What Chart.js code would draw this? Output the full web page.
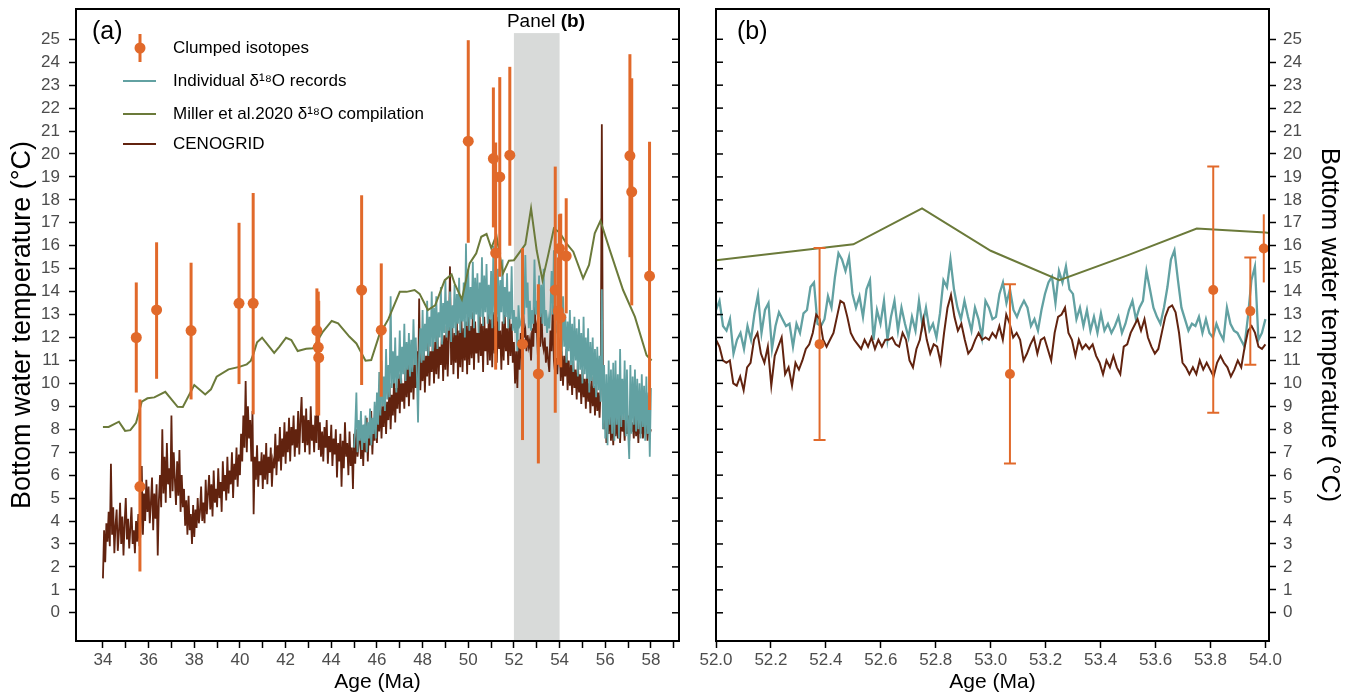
<!DOCTYPE html>
<html>
<head>
<meta charset="utf-8">
<script src="https://cdn.jsdelivr.net/npm/chart.js@4.4.1/dist/chart.umd.min.js"></script>
<style>
  html, body { margin: 0; padding: 0; background: #fff; }
  #wrap { position: relative; width: 1357px; height: 697px; }
  #panelA { position: absolute; left: 0; top: 0; }
  #panelB { position: absolute; left: 690px; top: 0; }
</style>
</head>
<body>
<div id="wrap">
  <canvas id="panelA" width="690" height="697"></canvas>
  <canvas id="panelB" width="667" height="697"></canvas>
</div>
<script>
// ---- data ----
var yTicks = [0,1,2,3,4,5,6,7,8,9,10,11,12,13,14,15,16,17,18,19,20,21,22,23,24,25];
var xTicksA = [34,35,36,37,38,39,40,41,42,43,44,45,46,47,48,49,50,51,52,53,54,55,56,57,58,59];
var xTicksB = [52.0,52.2,52.4,52.6,52.8,53.0,53.2,53.4,53.6,53.8,54.0];

// clumped isotopes: age, temperature, error bar low / high
var clumpedAge  = [35.46,35.62,36.35,37.86,39.96,40.58,43.37,43.43,43.45,45.33,46.19,50.0,51.1,51.2,51.38,51.82,52.377,53.07,53.81,53.945,53.994,54.05,54.29,57.08,57.16,57.94];
var clumpedTemp = [12.0,5.5,13.2,12.3,13.49,13.49,12.3,11.57,11.12,14.07,12.32,20.56,19.8,15.68,19.0,19.95,11.71,10.41,14.07,13.15,15.88,12.88,15.55,19.92,18.35,14.68];
var clumpedLow  = [9.6,1.8,10.2,9.3,9.97,8.65,8.6,9.0,8.6,9.93,9.42,16.13,16.8,10.6,14.65,16.0,7.53,6.51,8.72,10.81,14.4,10.7,13.05,15.5,13.4,8.84];
var clumpedHigh = [14.4,9.3,16.15,15.26,17.0,18.3,14.14,14.0,13.6,18.2,15.23,24.96,22.9,20.5,23.35,23.8,15.9,14.32,19.45,15.49,17.37,17.4,18.07,24.35,23.3,20.53];

// Miller et al. 2020 compilation
var millerAge  = [34.0,34.25,34.7,34.97,35.2,35.45,35.7,35.95,36.25,36.73,37.27,37.5,38.0,38.48,38.73,38.98,39.5,39.97,40.3,40.48,40.6,40.75,40.97,41.5,41.73,42.02,42.25,42.53,42.9,43.2,43.63,44.02,44.3,44.8,45.1,45.5,45.75,46.1,46.5,47.0,47.3,47.65,47.87,48.23,48.55,48.97,49.27,49.4,49.72,50.06,50.35,50.57,50.8,51.01,51.23,51.52,51.78,52.0,52.5,52.75,53.0,53.25,53.5,53.75,54.0,54.3,54.6,55.03,55.29,55.54,55.79,56.2,56.78,57.3,57.81,58.03];
var millerTemp = [8.1,8.1,8.33,7.93,7.96,8.28,9.2,9.35,9.39,9.63,8.98,8.97,9.93,9.52,9.74,10.29,10.61,10.72,10.83,10.99,11.31,11.79,11.99,11.33,11.6,11.99,11.89,11.41,11.51,11.53,12.25,12.72,12.62,12.03,11.74,10.99,11.02,12.1,12.8,13.99,13.99,14.07,13.9,13.2,13.4,14.5,14.75,14.36,13.66,15.23,15.67,16.39,16.51,15.89,16.47,14.79,15.35,15.37,16.06,17.63,15.78,14.5,15.59,16.75,16.58,16.1,15.74,14.58,15.16,16.54,17.09,15.81,14.07,12.9,11.23,11.0];

// CENOGRID, panel (a): every 0.05 Ma from 34.0 (one row = 0.5 Ma)
var cenogridAStart = 34.0, cenogridAStep = 0.05;
var cenogridA = [
  1.5,3.6,2.2,3.9,3.1,4.4,2.9,6.5,3.4,4.6,
  2.6,3.8,4.5,2.7,3.5,4.8,3.0,4.2,2.5,3.9,
  5.0,3.2,4.1,2.8,3.7,4.6,3.0,3.6,2.6,4.0,
  3.1,4.3,2.9,3.5,6.4,3.4,5.2,4.0,5.8,4.4,
  5.5,3.9,4.8,5.9,3.6,5.2,4.1,5.6,2.5,4.9,
  6.0,4.6,8.0,5.2,6.8,4.8,7.4,5.6,6.3,5.0,
  8.6,5.3,7.0,5.8,4.7,6.6,5.1,7.1,4.4,6.0,
  4.6,5.4,3.8,4.9,3.4,5.1,3.6,4.3,3.0,4.7,
  3.3,4.5,3.7,5.0,3.9,4.4,5.5,4.0,4.8,3.9,
  5.8,4.3,5.2,6.0,4.5,5.6,4.2,6.2,4.8,5.4,
  4.6,6.3,5.0,5.7,4.4,6.6,5.3,6.0,4.9,6.8,
  5.2,6.2,5.6,7.0,5.0,6.5,5.8,7.2,5.5,6.9,
  6.0,7.8,6.6,8.6,7.2,10.1,7.0,9.0,7.6,8.4,
  6.6,8.8,4.3,6.8,5.8,7.3,5.5,6.6,6.0,7.0,
  5.4,6.9,5.8,7.4,5.6,6.8,6.1,7.2,5.5,6.6,
  6.3,7.8,6.0,7.3,6.6,8.1,6.2,7.6,6.8,8.3,
  6.5,7.9,7.0,8.5,6.6,8.1,7.3,8.6,6.8,8.0,
  7.2,8.8,6.9,8.4,9.4,7.4,8.6,7.0,8.9,7.3,
  8.4,6.9,9.0,7.5,8.2,7.0,8.6,7.4,10.5,7.1,
  8.3,6.8,7.9,6.6,8.1,7.2,8.4,6.5,7.7,7.0,
  8.2,6.4,7.6,6.9,8.0,5.9,7.4,6.6,7.8,5.5,
  7.5,6.3,8.3,6.8,7.4,6.0,7.9,6.4,7.2,5.4,
  7.8,6.5,8.0,6.8,7.4,8.3,6.7,7.9,6.4,8.2,
  7.0,8.5,6.6,8.0,7.3,8.8,6.9,8.2,7.5,9.0,
  7.4,8.8,7.9,9.3,7.6,9.0,8.1,9.6,7.8,9.2,
  8.4,10.0,8.0,9.5,8.6,10.2,8.3,9.8,8.9,10.4,
  8.7,10.5,9.2,10.0,8.9,10.7,9.4,11.0,9.0,10.4,
  9.6,11.2,9.3,10.8,9.8,11.4,9.5,13.7,9.7,11.0,
  10.1,11.6,9.6,11.2,10.3,11.9,9.9,11.4,10.5,12.0,
  10.0,11.8,10.4,12.3,10.2,11.6,10.8,12.4,10.1,12.1,
  10.6,12.5,10.3,12.0,15.1,10.8,12.6,10.4,12.2,10.9,
  12.8,10.2,12.3,10.7,12.9,10.5,12.4,11.0,12.7,10.4,
  12.9,10.8,12.5,11.1,13.1,10.6,12.7,11.3,12.2,10.9,
  13.0,11.2,12.6,10.5,12.9,11.4,12.4,10.8,13.2,11.0,
  12.8,10.7,13.1,11.3,12.5,10.9,12.9,11.5,12.3,10.6,
  12.7,11.0,13.0,11.4,12.4,10.8,12.9,11.2,12.6,10.9,
  11.8,10.0,11.4,9.8,11.9,10.6,12.2,11.0,13.5,12.0,
  12.3,11.4,12.1,11.6,11.9,11.0,12.4,11.6,13.8,12.2,
  12.5,11.2,12.0,11.6,13.3,11.8,11.5,12.0,10.9,11.6,
  11.0,10.5,12.3,11.4,13.4,11.0,10.5,11.1,10.4,11.6,
  11.8,10.1,11.4,9.9,11.2,10.3,11.5,9.7,11.0,9.9,
  10.8,9.5,11.0,9.8,10.6,9.3,10.9,9.6,10.4,9.1,
  10.6,9.4,10.2,8.9,10.5,9.2,10.0,8.7,10.3,9.0,
  9.9,8.6,10.1,8.8,9.6,8.5,9.8,21.3,9.4,8.0,
  9.0,7.4,8.7,7.8,9.1,7.5,8.6,7.3,8.8,7.7,
  8.5,7.6,9.0,7.4,8.7,7.9,8.4,7.5,8.9,7.8,
  8.6,7.5,8.8,7.9,8.3,7.6,8.9,7.7,8.5,7.4,
  8.7,7.8,8.4,7.6,8.2,7.9,8.6,7.5,8.1,7.8,
  8.0];

// individual d18O records, panel (a): every 0.05 Ma from 45.0
var individualAStart = 45.0, individualAStep = 0.05;
var individualA = [
  7.2,8.1,9.6,7.0,8.4,7.5,8.8,7.1,8.2,7.4,
  8.6,7.0,8.3,7.6,8.9,7.3,8.5,7.8,9.2,7.6,
  9.6,8.2,10.5,8.6,11.0,9.0,10.3,8.8,11.5,9.3,
  10.8,9.4,13.8,9.8,11.4,10.0,12.0,9.6,11.2,10.2,
  12.3,10.0,11.6,10.4,12.6,10.1,11.8,10.6,12.2,10.3,
  11.9,10.5,12.8,10.8,12.0,10.4,8.3,11.2,12.4,10.9,
  13.2,11.0,12.6,11.4,13.6,11.2,12.9,11.6,14.0,11.4,
  13.3,11.8,13.8,11.5,13.1,12.0,14.2,11.7,13.5,12.2,
  14.5,12.0,13.6,12.3,14.0,11.8,13.4,12.4,14.3,12.1,
  13.9,12.6,14.6,12.2,13.8,12.7,14.4,12.0,16.1,12.5,
  15.0,12.3,14.2,12.8,15.3,12.4,14.6,13.0,14.8,12.2,
  14.4,12.9,15.5,12.5,14.7,13.1,15.2,12.6,14.3,12.8,
  14.9,12.4,16.0,13.0,14.6,12.7,15.0,12.3,14.5,13.1,
  15.4,12.6,14.2,12.9,14.8,12.4,14.0,12.8,15.1,12.3,
  13.2,12.2,12.9,11.4,13.4,12.5,12.6,12.9,14.4,13.0,
  15.6,13.3,14.4,12.4,13.6,12.3,13.2,12.6,15.4,13.0,
  13.6,12.8,14.7,12.9,14.3,12.6,15.0,12.5,13.2,12.2,
  12.8,12.4,13.3,14.9,13.0,15.8,12.8,12.3,12.2,15.1,
  12.6,13.5,11.2,13.8,11.6,13.0,10.9,12.7,11.4,13.2,
  10.8,12.6,10.5,12.9,11.0,12.4,10.3,12.8,10.6,12.2,
  10.0,12.9,10.4,12.0,10.2,12.4,9.6,11.8,10.1,12.0,
  9.8,11.5,9.4,11.6,9.7,11.2,9.2,14.1,8.0,10.8,
  7.6,10.4,7.3,11.0,8.2,10.6,7.8,10.9,7.5,11.0,
  8.2,10.4,7.6,11.5,8.1,10.2,8.4,11.0,7.7,10.6,
  7.9,6.7,10.8,7.8,10.3,8.2,10.6,7.9,10.2,8.0,
  10.0,7.6,10.4,8.1,9.9,7.5,10.3,7.8,9.6,6.8,
  9.8];

// panel (b): CENOGRID and individual records, evenly spread over 52.0-54.0 Ma
var cenogridB = [11.9,11.6,11.0,10.9,11.0,10.0,9.9,10.3,9.7,10.7,
  10.9,11.9,12.2,11.3,10.9,11.6,9.9,11.2,11.6,12.0,
  10.4,10.7,9.9,10.9,10.6,11.0,11.5,11.7,12.2,13.0,
  12.8,11.9,11.6,11.9,12.2,12.9,13.6,13.5,12.9,12.2,
  11.9,11.7,11.5,11.9,11.6,12.0,11.5,11.9,11.6,11.9,
  11.9,12.0,11.7,11.6,12.2,11.9,11.0,10.7,11.5,11.9,
  12.8,11.9,11.3,11.7,11.6,10.9,12.2,13.3,13.85,12.9,
  12.3,12.6,11.9,11.3,11.5,11.9,12.2,11.9,12.0,11.9,
  12.2,12.0,12.5,11.9,13.0,12.6,12.0,12.2,11.9,11.0,
  11.3,11.7,12.0,11.3,11.9,12.0,11.5,11.0,12.2,12.9,
  13.0,13.3,12.2,11.9,11.2,11.9,11.5,11.7,11.5,11.7,
  11.2,10.9,10.4,11.0,10.7,11.2,10.7,10.4,11.6,11.7,
  12.2,12.5,12.8,12.3,12.8,12.0,11.6,11.3,11.5,12.2,
  12.9,13.3,13.4,13.1,12.2,10.9,10.7,10.4,10.7,10.4,
  11.0,10.6,10.9,10.6,10.3,10.9,11.2,10.9,10.7,10.3,
  10.6,11.0,10.7,11.6,12.3,12.5,12.2,11.6,11.5,11.7];
var individualB = [13.2,13.6,12.5,12.3,12.8,11.3,11.9,12.2,11.5,12.5,
  11.9,13.05,13.85,12.2,13.2,13.5,11.5,12.5,13.1,12.8,
  12.5,12.6,11.6,12.6,12.2,13.05,13.2,14.2,14.4,12.6,
  12.5,12.8,13.8,13.3,14.65,15.67,15.4,14.9,15.5,13.9,
  13.3,13.8,12.9,14.1,14.5,11.9,13.2,12.6,13.6,11.9,
  12.9,13.6,12.3,13.3,12.6,12.0,12.9,12.3,13.6,12.5,
  13.3,12.3,12.6,12.0,13.05,14.5,14.2,15.4,14.1,13.3,
  12.8,13.6,12.9,12.3,13.3,12.8,12.0,13.6,13.3,12.8,
  12.9,13.9,14.4,13.5,14.1,13.2,12.9,13.3,13.6,13.3,
  12.5,12.8,12.3,13.2,13.9,14.4,14.65,13.5,14.9,14.4,
  15.1,14.1,13.9,12.8,13.3,12.5,13.2,12.3,12.9,12.2,
  13.05,12.3,12.6,12.2,12.5,12.9,12.2,12.6,13.2,13.6,
  12.8,13.3,13.6,14.9,14.1,13.3,12.9,12.6,13.3,14.2,
  15.4,15.8,14.5,13.3,12.8,12.3,12.6,12.5,12.9,12.2,
  12.8,12.2,12.0,12.6,12.2,11.9,13.3,12.6,12.3,12.2,
  11.9,11.6,12.9,14.5,15.1,11.9,12.2,12.8];

// ---- styling ----
var ORANGE = '#e1692a', TEAL = '#62a1a2', GREEN = '#6b7a3a', BROWN = '#62230f';
var FONT = "'Liberation Sans', Arial, Helvetica, sans-serif";
Chart.defaults.font.family = FONT;

function evenPoints(start, step, vals) {
  return vals.map(function(v, i) { return {x: start + i * step, y: v}; });
}
function pairPoints(xs, ys) {
  return xs.map(function(x, i) { return {x: x, y: ys[i]}; });
}
function clumpedPoints(xmin, xmax) {
  var pts = [];
  for (var i = 0; i < clumpedAge.length; i++) {
    if (clumpedAge[i] < xmin || clumpedAge[i] > xmax) continue;
    pts.push({x: clumpedAge[i], y: clumpedTemp[i], lo: clumpedLow[i], hi: clumpedHigh[i]});
  }
  return pts;
}

// error bars drawn just before the clumped points
var errorBars = {
  id: 'errorBars',
  beforeDatasetDraw: function(chart, args, opts) {
    var ds = chart.data.datasets[args.index];
    if (ds.label !== 'Clumped isotopes') return;
    var ctx = chart.ctx, xs = chart.scales.x, ys = chart.scales.y, area = chart.chartArea;
    ctx.save();
    ctx.strokeStyle = ORANGE;
    ctx.lineWidth = opts.width;
    ds.data.forEach(function(p) {
      var px = xs.getPixelForValue(p.x);
      var y1 = ys.getPixelForValue(p.lo), y2 = ys.getPixelForValue(p.hi);
      ctx.beginPath(); ctx.moveTo(px, y1); ctx.lineTo(px, y2); ctx.stroke();
      if (opts.cap && px + opts.cap < area.right) {
        ctx.beginPath();
        ctx.moveTo(px - opts.cap, y1); ctx.lineTo(px + opts.cap, y1);
        ctx.moveTo(px - opts.cap, y2); ctx.lineTo(px + opts.cap, y2);
        ctx.stroke();
      }
    });
    ctx.restore();
  }
};

// frame + inward ticks on the inner side
var frame = {
  id: 'frame',
  afterDatasetsDraw: function(chart, args, opts) {
    var ctx = chart.ctx, a = chart.chartArea, ys = chart.scales.y;
    ctx.save();
    ctx.strokeStyle = '#000';
    ctx.lineWidth = 1.5;
    yTicks.forEach(function(v) {
      var py = ys.getPixelForValue(v);
      ctx.beginPath();
      if (opts.side === 'right') { ctx.moveTo(a.right, py); ctx.lineTo(a.right - 7, py); }
      else { ctx.moveTo(a.left, py); ctx.lineTo(a.left + 7, py); }
      ctx.stroke();
    });
    ctx.lineWidth = 2;
    ctx.strokeRect(a.left, a.top, a.right - a.left, a.bottom - a.top);
    ctx.restore();
  }
};

// grey band marking the span of panel (b)
var shade = {
  id: 'shade',
  beforeDatasetsDraw: function(chart) {
    var ctx = chart.ctx, xs = chart.scales.x, ys = chart.scales.y, a = chart.chartArea;
    var x1 = xs.getPixelForValue(52), x2 = xs.getPixelForValue(54);
    var top = ys.getPixelForValue(25.27);
    ctx.save();
    ctx.fillStyle = '#d8dad9';
    ctx.fillRect(x1, top, x2 - x1, a.bottom - top);
    ctx.fillStyle = '#000';
    ctx.textBaseline = 'middle';
    ctx.textAlign = 'left';
    ctx.font = '19px ' + FONT;
    var lx = x1 - 7;
    ctx.fillText('Panel ', lx, 22);
    var w = ctx.measureText('Panel ').width;
    ctx.font = 'bold 19px ' + FONT;
    ctx.fillText('(b)', lx + w, 22);
    ctx.restore();
  }
};

var legendA = {
  id: 'legendA',
  afterDraw: function(chart) {
    var ctx = chart.ctx;
    ctx.save();
    ctx.font = '25px ' + FONT;
    ctx.fillStyle = '#000';
    ctx.textBaseline = 'middle';
    ctx.fillText('(a)', 92, 32);
    // clumped symbol
    ctx.strokeStyle = ORANGE; ctx.lineWidth = 3;
    ctx.beginPath(); ctx.moveTo(140, 34); ctx.lineTo(140, 62); ctx.stroke();
    ctx.fillStyle = ORANGE;
    ctx.beginPath(); ctx.arc(140, 48, 5.5, 0, Math.PI * 2); ctx.fill();
    var rows = [[TEAL, 81], [GREEN, 114], [BROWN, 144]];
    ctx.lineWidth = 2;
    rows.forEach(function(r) {
      ctx.strokeStyle = r[0];
      ctx.beginPath(); ctx.moveTo(123, r[1]); ctx.lineTo(156, r[1]); ctx.stroke();
    });
    ctx.fillStyle = '#000';
    ctx.font = '17px ' + FONT;
    ctx.fillText('Clumped isotopes', 173, 48);
    ctx.fillText('Individual \u03b4\u00b9\u2078O records', 173, 81);
    ctx.fillText('Miller et al.2020 \u03b4\u00b9\u2078O compilation', 173, 114);
    ctx.fillText('CENOGRID', 173, 144);
    ctx.restore();
  }
};

var labelB = {
  id: 'labelB',
  afterDraw: function(chart) {
    var ctx = chart.ctx;
    ctx.save();
    ctx.font = '25px ' + FONT;
    ctx.fillStyle = '#000';
    ctx.textBaseline = 'middle';
    ctx.fillText('(b)', 47, 32);
    ctx.restore();
  }
};

function tickGrid() {
  return {drawOnChartArea: false, drawTicks: true, tickLength: 7, tickWidth: 1.5, tickColor: '#000', color: '#000'};
}
var tickFont = {family: FONT, size: 17};
function fitX(s) { s.height = 56; s.paddingLeft = 0; s.paddingRight = 0; }
function fitY(w) { return function(s) { s.width = w; s.paddingTop = 0; s.paddingBottom = 0; }; }

// ---- panel (a) ----
new Chart(document.getElementById('panelA'), {
  type: 'scatter',
  data: {
    datasets: [
      {label: 'CENOGRID', data: evenPoints(cenogridAStart, cenogridAStep, cenogridA), showLine: true,
       borderColor: BROWN, borderWidth: 1.8, pointRadius: 0, order: 4},
      {label: 'Individual', data: evenPoints(individualAStart, individualAStep, individualA), showLine: true,
       borderColor: TEAL, borderWidth: 1.8, pointRadius: 0, order: 3},
      {label: 'Miller', data: pairPoints(millerAge, millerTemp), showLine: true,
       borderColor: GREEN, borderWidth: 2, pointRadius: 0, order: 2},
      {label: 'Clumped isotopes', data: clumpedPoints(30, 60), pointRadius: 5.5,
       backgroundColor: ORANGE, borderWidth: 0, order: 1, clip: false}
    ]
  },
  options: {
    responsive: false,
    animation: false,
    layout: {padding: {top: 9, right: 11, left: 0, bottom: 0}},
    plugins: {legend: {display: false}, tooltip: {enabled: false}, errorBars: {width: 3, cap: 0}, frame: {side: 'right'}},
    scales: {
      x: {
        type: 'linear', min: 32.82, max: 59.23,
        afterBuildTicks: function(s) { s.ticks = xTicksA.map(function(v) { return {value: v}; }); },
        afterFit: fitX,
        ticks: {autoSkip: false, maxRotation: 0, padding: 2, color: '#4d4d4d', font: tickFont,
                callback: function(v) { return v % 2 === 0 ? String(v) : ''; }},
        grid: tickGrid(),
        border: {display: false},
        title: {display: true, text: 'Age (Ma)', color: '#000', font: {family: FONT, size: 21}, padding: {top: 0, bottom: 2}}
      },
      y: {
        min: -1.23, max: 26.32,
        afterBuildTicks: function(s) { s.ticks = yTicks.map(function(v) { return {value: v}; }); },
        afterFit: fitY(76),
        ticks: {autoSkip: false, padding: 9, color: '#4d4d4d', font: tickFont},
        grid: tickGrid(),
        border: {display: false},
        title: {display: true, text: 'Bottom water temperature (\u00b0C)', color: '#000', font: {family: FONT, size: 27}, padding: {top: 6, bottom: 0}}
      }
    }
  },
  plugins: [shade, errorBars, frame, legendA]
});

// ---- panel (b) ----
new Chart(document.getElementById('panelB'), {
  type: 'scatter',
  data: {
    datasets: [
      {label: 'Individual', data: evenPoints(52.0, 2.0 / (individualB.length - 1), individualB), showLine: true,
       borderColor: TEAL, borderWidth: 2.3, pointRadius: 0, order: 4},
      {label: 'CENOGRID', data: evenPoints(52.0, 2.0 / (cenogridB.length - 1), cenogridB), showLine: true,
       borderColor: BROWN, borderWidth: 2, pointRadius: 0, order: 3},
      {label: 'Miller', data: pairPoints(millerAge, millerTemp), showLine: true,
       borderColor: GREEN, borderWidth: 2, pointRadius: 0, order: 2},
      {label: 'Clumped isotopes', data: clumpedPoints(52.0, 54.013), pointRadius: 5,
       backgroundColor: ORANGE, borderWidth: 0, order: 1, clip: false}
    ]
  },
  options: {
    responsive: false,
    animation: false,
    layout: {padding: {top: 9, right: 0, left: 26, bottom: 0}},
    plugins: {legend: {display: false}, tooltip: {enabled: false}, errorBars: {width: 2, cap: 6}, frame: {side: 'left'}},
    scales: {
      x: {
        type: 'linear', min: 52.0, max: 54.013,
        afterBuildTicks: function(s) { s.ticks = xTicksB.map(function(v) { return {value: v}; }); },
        afterFit: fitX,
        ticks: {autoSkip: false, maxRotation: 0, padding: 2, color: '#4d4d4d', font: tickFont,
                callback: function(v) { return Number(v).toFixed(1); }},
        grid: tickGrid(),
        border: {display: false},
        title: {display: true, text: 'Age (Ma)', color: '#000', font: {family: FONT, size: 21}, padding: {top: 0, bottom: 2}}
      },
      y: {
        position: 'right',
        min: -1.23, max: 26.32,
        afterBuildTicks: function(s) { s.ticks = yTicks.map(function(v) { return {value: v}; }); },
        afterFit: fitY(88),
        ticks: {autoSkip: false, padding: 7, color: '#4d4d4d', font: tickFont},
        grid: tickGrid(),
        border: {display: false},
        title: {display: true, text: 'Bottom water temperature (\u00b0C)', color: '#000', font: {family: FONT, size: 26}, padding: {top: 12, bottom: 0}}
      }
    }
  },
  plugins: [errorBars, frame, labelB]
});
</script>
</body>
</html>
